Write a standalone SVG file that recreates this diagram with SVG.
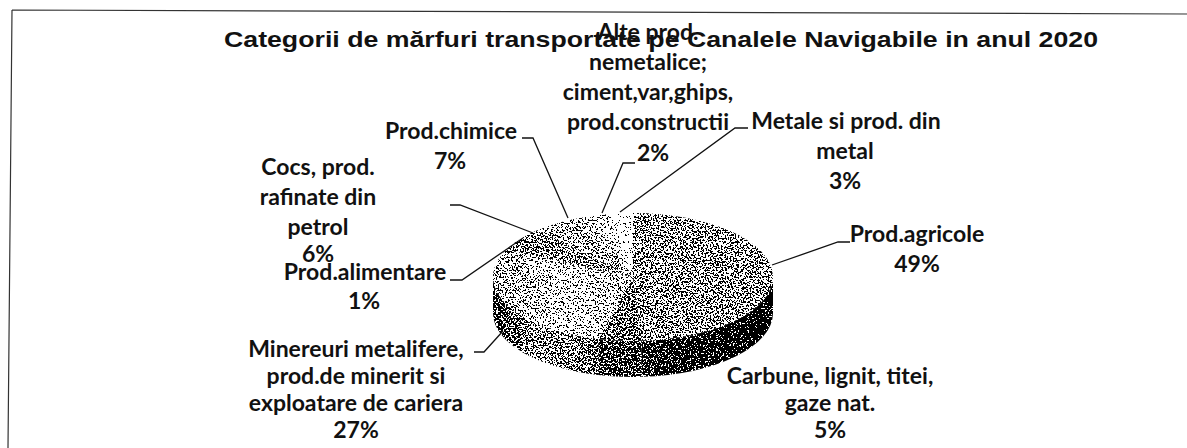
<svg xmlns="http://www.w3.org/2000/svg" width="1187" height="448" viewBox="0 0 1187 448">
<style>
.lbl{font-family:Lato,"Liberation Sans",sans-serif;font-weight:bold;font-size:23px;fill:#111;text-anchor:middle}
.ttl{font-family:"Liberation Sans",Arial,sans-serif;font-weight:bold;font-size:22px;fill:#111}
.ld{fill:none;stroke:#111;stroke-width:1.3}
.frame{fill:none;stroke:#333;stroke-width:1.2}
</style>
<defs>
<filter id="dither" x="0" y="0" width="100%" height="100%" color-interpolation-filters="sRGB">
<feTurbulence type="fractalNoise" baseFrequency="0.6" numOctaves="2" seed="7" result="noise"/>
<feColorMatrix in="noise" type="matrix" values="1 0 0 0 0 1 0 0 0 0 1 0 0 0 0 0 0 0 0 1" result="ng"/>
<feColorMatrix in="SourceGraphic" type="matrix" values="1 0 0 0 0 0 1 0 0 0 0 0 1 0 0 0 0 0 0 1" result="sg"/>
<feComposite in="sg" in2="ng" operator="arithmetic" k1="0" k2="1" k3="2.2" k4="-1.1" result="sum"/>
<feComponentTransfer in="sum" result="th">
<feFuncR type="discrete" tableValues="0 1"/>
<feFuncG type="discrete" tableValues="0 1"/>
<feFuncB type="discrete" tableValues="0 1"/>
<feFuncA type="linear" slope="0" intercept="1"/>
</feComponentTransfer>
<feComposite in="th" in2="SourceAlpha" operator="in"/>
</filter>
<linearGradient id="gAgrSide" x1="1" y1="0" x2="0" y2="0">
<stop offset="0" stop-color="#2a2a2a"/><stop offset="1" stop-color="#4a4a4a"/>
</linearGradient>
<linearGradient id="gMinSide" x1="1" y1="0" x2="0" y2="0">
<stop offset="0" stop-color="#7a7a7a"/><stop offset="0.6" stop-color="#8a8a8a"/><stop offset="1" stop-color="#5a5a5a"/>
</linearGradient>
<linearGradient id="gMinTop" x1="0" y1="0" x2="1" y2="0">
<stop offset="0" stop-color="#9a9a9a"/><stop offset="0.5" stop-color="#bababa"/><stop offset="1" stop-color="#a4a4a4"/>
</linearGradient>
</defs>
<rect width="1187" height="448" fill="#fff"/>
<path class="frame" d="M12,10 L1187,14 M12,10 L8,448"/>
<text class="ttl" x="224" y="47" textLength="874" lengthAdjust="spacingAndGlyphs">Categorii de mărfuri transportate pe Canalele Navigabile in anul 2020</text>

<g id="pie" filter="url(#dither)">
<g id="slice-agricole">
<path d="M773,277 A140,64 0 0 1 641.79,340.87 L641.79,376.87 A140,64 0 0 0 773,313 Z" fill="url(#gAgrSide)"/>
<path d="M633,277 L633,213 A140,64 0 0 1 641.79,340.87 Z" fill="#8e8e8e"/>
</g>
<g id="slice-carbune">
<path d="M641.79,340.87 A140,64 0 0 1 598.18,338.99 L598.18,374.99 A140,64 0 0 0 641.79,376.87 Z" fill="#5e5e5e"/>
<path d="M633,277 L641.79,340.87 A140,64 0 0 1 598.18,338.99 Z" fill="#7c7c7c"/>
</g>
<g id="slice-minereuri">
<path d="M598.18,338.99 A140,64 0 0 1 493,277 L493,313 A140,64 0 0 0 598.18,374.99 Z" fill="url(#gMinSide)"/>
<path d="M633,277 L598.18,338.99 A140,64 0 0 1 502.83,253.44 Z" fill="url(#gMinTop)"/>
</g>
<path id="slice-alimentare" d="M633,277 L502.83,253.44 A140,64 0 0 1 506.32,249.75 Z" fill="#9a9a9a"/>
<path id="slice-cocs" d="M633,277 L506.32,249.75 A140,64 0 0 1 537.16,230.35 Z" fill="#858585"/>
<path id="slice-chimice" d="M633,277 L537.16,230.35 A140,64 0 0 1 589.74,216.13 Z" fill="#a0a0a0"/>
<path id="slice-alte" d="M633,277 L589.74,216.13 A140,64 0 0 1 606.77,214.13 Z" fill="#bdbdbd"/>
<path id="slice-metale" d="M633,277 L606.77,214.13 A140,64 0 0 1 633,213 Z" fill="#dadada"/>
</g>

<g id="connectors">
<path class="ld" d="M850,242 L838,242 L772,265"/>
<path class="ld" d="M474,352 L484,352 L503,331"/>
<path class="ld" d="M450,280 L462,280 L523,238"/>
<path class="ld" d="M450,205 L460,205 L533,233"/>
<path class="ld" d="M522,138 L533,138 L568,218"/>
<path class="ld" d="M635,163 L623,163 L602,213"/>
<path class="ld" d="M748,128 L735,128 L620,212"/>
</g>

<g id="label-alte">
<text class="lbl" x="648" y="40">Alte prod.</text>
<text class="lbl" x="648" y="70">nemetalice;</text>
<text class="lbl" x="648" y="100">ciment,var,ghips,</text>
<text class="lbl" x="648" y="130">prod.constructii</text>
<text class="lbl" x="653" y="161">2%</text>
</g>
<g id="label-metale">
<text class="lbl" x="846" y="129">Metale si prod. din</text>
<text class="lbl" x="845" y="159">metal</text>
<text class="lbl" x="845" y="189">3%</text>
</g>
<g id="label-agricole">
<text class="lbl" x="917" y="242">Prod.agricole</text>
<text class="lbl" x="917" y="272">49%</text>
</g>
<g id="label-chimice">
<text class="lbl" x="451" y="139">Prod.chimice</text>
<text class="lbl" x="450" y="169">7%</text>
</g>
<g id="label-cocs">
<text class="lbl" x="318" y="175">Cocs, prod.</text>
<text class="lbl" x="318" y="205">rafinate din</text>
<text class="lbl" x="318" y="235">petrol</text>
<text class="lbl" x="318" y="262">6%</text>
</g>
<g id="label-alimentare">
<text class="lbl" x="365" y="280">Prod.alimentare</text>
<text class="lbl" x="364" y="309">1%</text>
</g>
<g id="label-minereuri">
<text class="lbl" x="356" y="357">Minereuri metalifere,</text>
<text class="lbl" x="356" y="384">prod.de minerit si</text>
<text class="lbl" x="356" y="411">exploatare de cariera</text>
<text class="lbl" x="356" y="438">27%</text>
</g>
<g id="label-carbune">
<text class="lbl" x="830" y="384">Carbune, lignit, titei,</text>
<text class="lbl" x="830" y="411">gaze nat.</text>
<text class="lbl" x="830" y="438">5%</text>
</g>
</svg>
